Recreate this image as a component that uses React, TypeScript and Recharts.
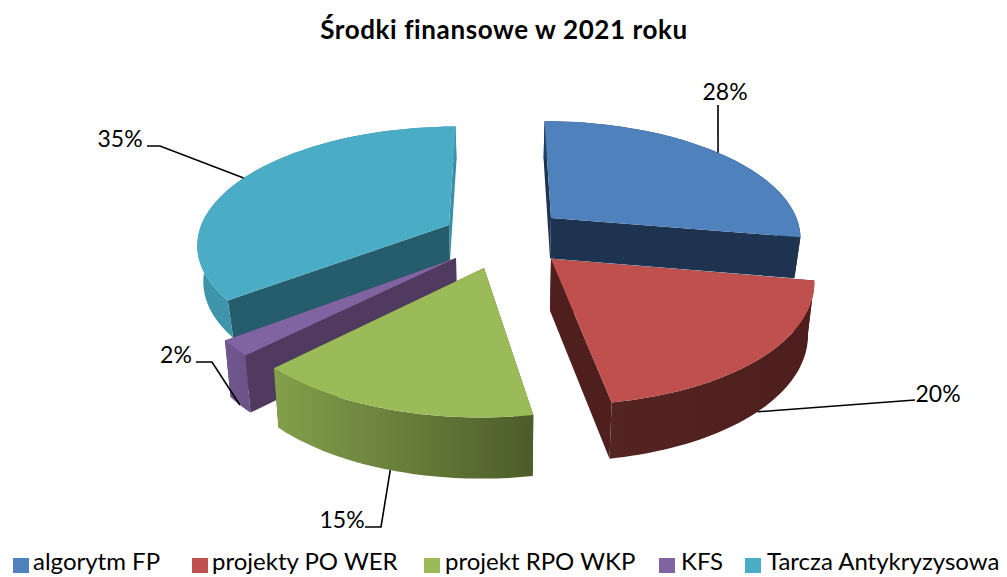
import React from "react";
import { PieChart, Pie, Legend } from "recharts";

const TITLE = "Środki finansowe w 2021 roku";
const CATEGORIES = ["algorytm FP", "projekty PO WER", "projekt RPO WKP", "KFS", "Tarcza Antykryzysowa"];
const VALUES = [27.7, 19.6, 15.2, 2.1, 35.4];
const COLORS = ["#4F81BD", "#C0504D", "#9BBB59", "#8064A2", "#4BACC6"];

// Drawn back to front, counter-clockwise from 12 o'clock, so nearer slices paint last.
const pieData = CATEGORIES.map((name, i) => ({ name, value: VALUES[i] })).reverse();

const ASPECT = 251 / 116;
const PERSPECTIVE = 0.15;

const SLICE_LOOK = [
  { off: [51, -17], depth: 41, wallA: "#1D334F", wallB: "#1D334F", arcL: "#24405F", arcR: "#1D334F", anchorLow: false },
  { off: [51, 24], depth: 51, wallA: "#4F1F1E", wallB: "#4F1F1E", arcL: "#542422", arcR: "#4D1E1D", anchorLow: true },
  { off: [-16, 33], depth: 55, wallA: "#4C5C2A", wallB: "#4C5C2A", arcL: "#83A04A", arcR: "#4C5C2A", anchorLow: true },
  { off: [-44, 23], depth: 53, wallA: "#503A60", wallB: "#503A60", arcL: "#71578F", arcR: "#6A5286", anchorLow: true },
  { off: [-51, -10], depth: 36, wallA: "#3A8FA8", wallB: "#265D6C", arcL: "#3E94AB", arcR: "#3E94AB", anchorLow: false },
];

const LABEL_LOOK = [
  { x: 725, y: 100, anchor: "middle", elbow: [718, 105], start: [718, 105] },
  { x: 938, y: 402, anchor: "middle", elbow: [915, 400], start: [915, 400] },
  { x: 342, y: 528, anchor: "middle", elbow: [381, 527], start: [365, 527] },
  { x: 176, y: 363, anchor: "middle", elbow: [212, 362], start: [196, 362] },
  { x: 120, y: 147, anchor: "middle", elbow: [160, 146], start: [147, 146] },
];

const LEGEND_LOOK = [
  { swatch: 13, text: 33 },
  { swatch: 192, text: 212 },
  { swatch: 424, text: 445 },
  { swatch: 659, text: 681 },
  { swatch: 745, text: 767 },
];

const FONT = "Lato, 'Open Sans', sans-serif";
const RAD = Math.PI / 180;

function makeProjector(cx: number, cy: number, ry: number, off: number[]) {
  const rx = ry * ASPECT;
  const scale = (v: number) => 1 / (1 - PERSPECTIVE * v);
  const t = off[1] / ry;
  const v0 = t / (1 + PERSPECTIVE * t);
  const u0 = off[0] / (rx * scale(v0));
  return (u: number, v: number, depth: number) => {
    const uu = u0 + u;
    const vv = v0 + v;
    const s = scale(vv);
    const x = uu * rx * s;
    const y = vv * ry * s;
    const shrink = depth > 0 ? 0.98 : 1;
    return [cx + x * shrink, cy + y + depth * Math.sqrt(s)];
  };
}

const toPath = (pts: number[][]) =>
  "M" + pts.map((p) => `${p[0].toFixed(1)},${p[1].toFixed(1)}`).join("L") + "Z";

function Slice3D(props: any) {
  const { cx, cy, outerRadius, startAngle, endAngle } = props;
  const idx = CATEGORIES.indexOf(props.name ?? props.payload?.name);
  const look = SLICE_LOOK[idx];
  const proj = makeProjector(cx, cy, outerRadius, look.off);
  const n = 48;
  const top: number[][] = [];
  const bottom: number[][] = [];
  for (let i = 0; i <= n; i++) {
    const a = (startAngle + ((endAngle - startAngle) * i) / n) * RAD;
    top.push(proj(Math.cos(a), -Math.sin(a), 0));
    bottom.push(proj(Math.cos(a), -Math.sin(a), look.depth));
  }
  const apexT = proj(0, 0, 0);
  const apexB = proj(0, 0, look.depth);
  const gid = `arc-wall-${idx}`;
  return (
    <g>
      <defs>
        <linearGradient id={gid} x1="0" y1="0" x2="1" y2="0">
          <stop offset="0%" stopColor={look.arcL} />
          <stop offset="100%" stopColor={look.arcR} />
        </linearGradient>
      </defs>
      <path d={toPath([apexT, top[0], bottom[0], apexB])} fill={look.wallA} />
      <path d={toPath([apexT, top[n], bottom[n], apexB])} fill={look.wallB} />
      <path d={toPath([...top, ...bottom.slice().reverse()])} fill={`url(#${gid})`} />
      <path d={toPath([apexT, ...top])} fill={COLORS[idx]} />
    </g>
  );
}

function SliceLabel(props: any) {
  const { cx, cy, outerRadius, midAngle } = props;
  const idx = CATEGORIES.indexOf(props.name ?? props.payload?.name);
  const look = SLICE_LOOK[idx];
  const lab = LABEL_LOOK[idx];
  const proj = makeProjector(cx, cy, outerRadius, look.off);
  const a = midAngle * RAD;
  const end = proj(Math.cos(a), -Math.sin(a), look.anchorLow ? look.depth : 0);
  const line = [lab.start, lab.elbow, end].map((p) => p.join(",")).join(" ");
  return (
    <g>
      <polyline points={line} fill="none" stroke="#000" strokeWidth={1.6} />
      <text x={lab.x} y={lab.y} textAnchor={lab.anchor as any} fontFamily={FONT} fontSize={23} fill="#000">
        {Math.round(VALUES[idx])}%
      </text>
    </g>
  );
}

function ChartLegend() {
  return (
    <div style={{ position: "relative", width: 1007, height: 30, fontFamily: FONT, fontSize: 24, color: "#000" }}>
      {CATEGORIES.map((name, i) => (
        <React.Fragment key={name}>
          <span
            style={{ position: "absolute", left: LEGEND_LOOK[i].swatch, top: 11, width: 16, height: 15, background: COLORS[i] }}
          />
          <span style={{ position: "absolute", left: LEGEND_LOOK[i].text, top: 2, whiteSpace: "nowrap", lineHeight: "24px" }}>
            {name}
          </span>
        </React.Fragment>
      ))}
    </div>
  );
}

export default function App() {
  return (
    <div style={{ position: "absolute", left: 0, top: 0, width: 1007, height: 577, overflow: "hidden", background: "#fff" }}>
      <PieChart width={1007} height={577} margin={{ top: 0, right: 0, bottom: 0, left: 0 }}>
        <text x={504} y={39} textAnchor="middle" fontFamily={FONT} fontSize={26} letterSpacing={0.6} fontWeight={700} fill="#000">
          {TITLE}
        </text>
        <Pie
          data={pieData}
          dataKey="value"
          nameKey="name"
          cx={500}
          cy={235}
          outerRadius={116}
          startAngle={90}
          endAngle={450}
          stroke="none"
          isAnimationActive={false}
          shape={Slice3D}
          label={SliceLabel}
          labelLine={false}
        />
        <Legend
          content={<ChartLegend />}
          layout="horizontal"
          verticalAlign="bottom"
          align="left"
          wrapperStyle={{ left: 0, bottom: 0, width: 1007, height: 30 }}
        />
      </PieChart>
    </div>
  );
}
